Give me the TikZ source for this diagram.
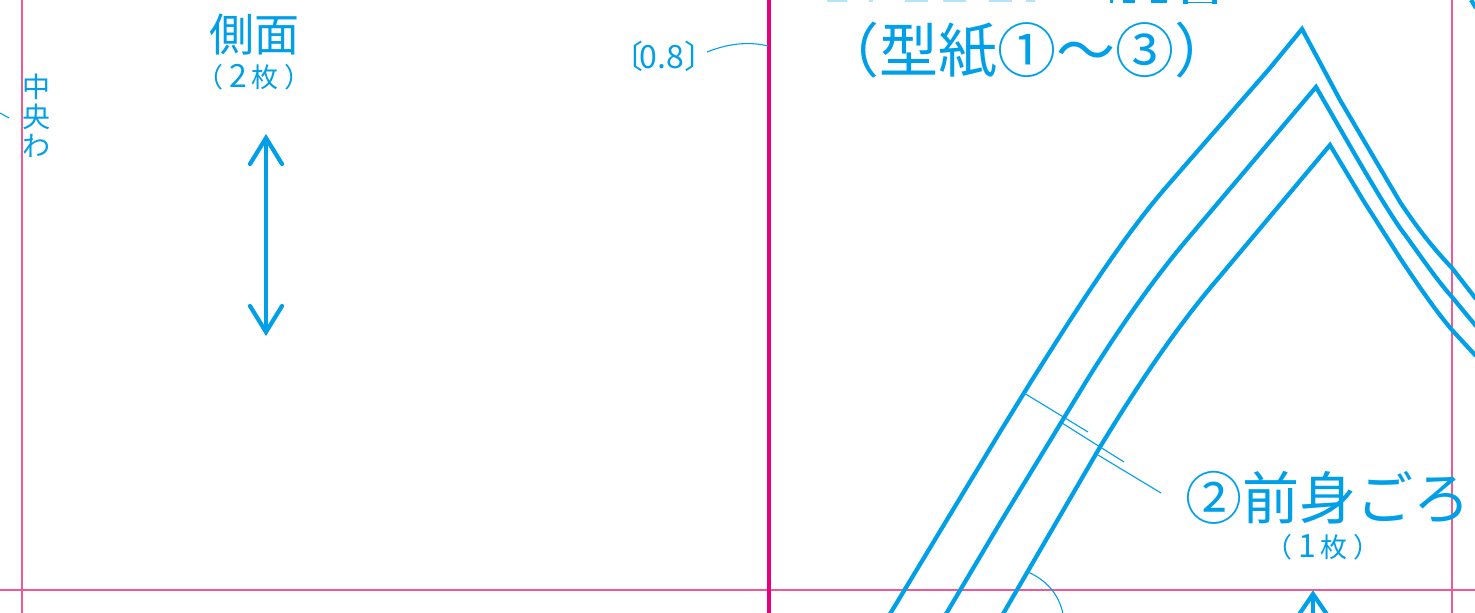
\documentclass[tikz,border=0pt]{standalone}
\usepackage{fontspec}
\newfontfamily\cjk{Noto Sans CJK JP}
\definecolor{ink}{HTML}{00A0E9}
\definecolor{rule}{HTML}{EE5A94}
\definecolor{mag}{HTML}{E6007E}
\definecolor{sliver}{HTML}{B5E3F8}
\newcommand{\fs}[1]{\fontsize{#1}{#1}\selectfont\cjk}
\newcommand{\dg}[1]{{\fontsize{32}{32}\selectfont\cjk #1}}
\tikzset{
  x=1pt,y=-1pt,
  cutline/.style={draw=ink,line width=4.2pt,line join=miter,line cap=butt},
  thinline/.style={draw=ink,line width=1.1pt},
  guide/.style={draw=rule,line width=1.2pt},
  lab/.style={text=ink,inner sep=0pt,outer sep=0pt},
  headbarb/.style={draw=ink,line width=4.2pt,line cap=round,line join=miter},
}
\begin{document}
\begin{tikzpicture}
\useasboundingbox (0,0) rectangle (1475,613);
\clip (0,0) rectangle (1475,613);
\fill[white] (0,0) rectangle (1475,613);
% guides
\draw[guide] (22,0) -- (22,613);
\draw[guide] (1452,0) -- (1452,613);
\draw[guide] (0,590) -- (1475,590);
\draw[draw=mag,line width=3.4pt] (769,0) -- (769,613);
% clipped title slivers
\foreach \a/\b in {827/847,869/873,905/928,943/966,989/1012,1026/1035}
  \fill[sliver] (\a,0) rectangle (\b,1.5);
\foreach \a/\b in {1110/1113,1123/1135,1151/1167}
  \fill[ink] (\a,0) rectangle (\b,3);
\fill[ink] (1183,0) rectangle (1188,4);
\fill[ink] (1212,0) rectangle (1217,4);
\fill[ink] (1183,1.5) rectangle (1217,3);
% pattern outlines
\coordinate (o0) at (890,614);
\coordinate (oA) at (1302,29);
\coordinate (o1) at (1476,299);
\coordinate (m0) at (946,614);
\coordinate (mA) at (1316,87);
\coordinate (m1) at (1476,326);
\coordinate (i0) at (1003,614);
\coordinate (iA) at (1330,145);
\coordinate (i1) at (1476,356);
\draw[cutline] (o0) -- (1000,432) -- (1032,380) .. controls (1070,320) and (1120,240) .. (1168,185) -- (1270,68) -- (oA)
  -- (1340,100) -- (1400,202) .. controls (1420,232) and (1435,250) .. (1452,268) -- (o1);
\draw[cutline] (m0) -- (1000,523) -- (1087,380) .. controls (1120,327) and (1155,277) .. (1190,236) -- (mA)
  -- (1350,146) .. controls (1365,172) and (1385,206) .. (1400,228) .. controls (1418,252) and (1435,278) .. (1452,297) -- (m1);
\draw[cutline] (i0) -- (1100,447) .. controls (1130,398) and (1170,335) .. (1216,281) -- (iA)
  -- (1363,200) -- (1400,258) .. controls (1418,285) and (1435,310) .. (1452,330) -- (i1);
% leader lines
\coordinate (l1a) at (1024,393);
\coordinate (l1b) at (1088,432);
\coordinate (l2a) at (1062,423);
\coordinate (l2b) at (1124,462);
\coordinate (l3a) at (1098,455);
\coordinate (l3b) at (1161,493);
\draw[thinline] (l1a) -- (l1b);
\draw[thinline] (l2a) -- (l2b);
\draw[thinline] (l3a) -- (l3b);
\coordinate (arcA) at (1028,572);
\coordinate (arcB) at (1063,614);
\draw[thinline] (arcA) .. controls (1046,580) and (1059,594) .. (arcB);
\coordinate (edgeA) at (0,113);
\coordinate (edgeB) at (9,118);
\draw[thinline] (edgeA) -- (edgeB);
\coordinate (corner) at (1476,8);
\coordinate (cornerB) at (1471,0);
\draw[cutline] (cornerB) -- (corner);
% double arrow
\coordinate (aT) at (266,138);
\coordinate (aB) at (266,332);
\draw[draw=ink,line width=4.2pt] (aT) -- (aB);
\draw[headbarb] (250,164) -- (aT) -- (282,164);
\draw[headbarb] (250,306) -- (aB) -- (282,306);
% bottom arrow
\coordinate (bT) at (1313,594);
\coordinate (bB) at (1313,614);
\draw[draw=ink,line width=4.2pt] (bT) -- (bB);
\draw[headbarb] (1298,616) -- (bT) -- (1328,616);
% labels
\node[lab] (side) at (254,35) {\fs{45}側面};
\node[lab] (sideN) at (254,77) {\fs{27}（\kern 6pt\dg{2}\kern 4pt 枚\kern 6pt）};
\node[lab,align=center,font=\fontsize{28}{29.5}\selectfont\cjk] (mid) at (36,116) {中\\央\\わ};
\node[lab] (dim) at (664,56) {\fs{32}〔\kern-4pt 0.8〕};
\coordinate (dimL) at (707,52);
\coordinate (dimR) at (768,46);
\draw[thinline] (dimL) .. controls (727,44) and (748,41) .. (dimR);
\node[lab] (title) at (1027,50) {\fs{59}（型紙①〜③）};
\node[lab,anchor=west] (front) at (1185,498) {\fs{57}②前身ごろ};
\node[lab] (frontN) at (1323,547) {\fs{27}（\kern 6pt\dg{1}\kern 4pt 枚\kern 6pt）};
\end{tikzpicture}
\end{document}
